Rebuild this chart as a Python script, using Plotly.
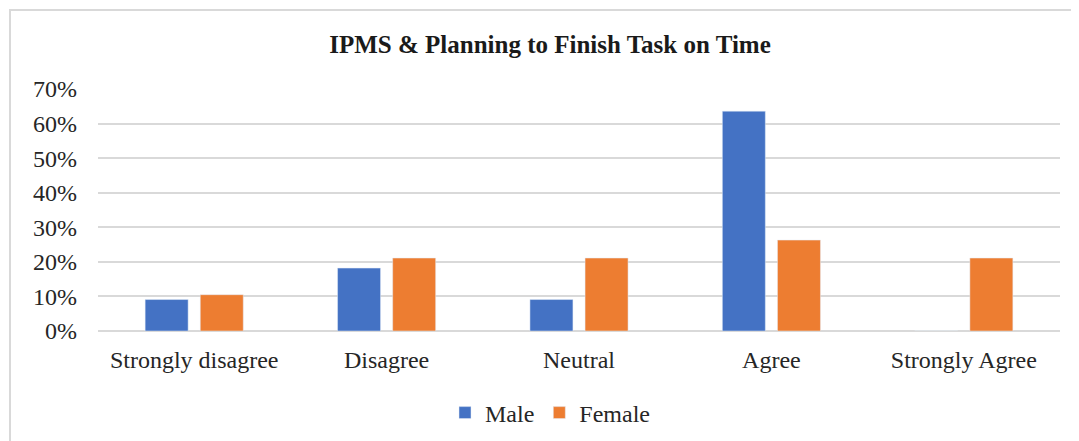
import plotly.graph_objects as go

categories = ["Strongly disagree", "Disagree", "Neutral", "Agree", "Strongly Agree"]
male = [9.1, 18.2, 9.1, 63.6, 0]
female = [10.5, 21.1, 21.1, 26.3, 21.1]
y_ticks = [0, 10, 20, 30, 40, 50, 60, 70]
y_tick_labels = [f"{v}%" for v in y_ticks]

FONT = "Liberation Serif, Times New Roman, serif"
OFF = 8  # page body margin offset
W, H = 1079 - OFF, 441 - OFF
# target positions in page pixels, converted to figure pixels
L = 98 - OFF
T = 89 - OFF
R = 1079 - 1060
B = 441 - 331

fig = go.Figure()
fig.add_trace(go.Bar(name="Male", x=categories, y=male, marker_color="#4472C4"))
fig.add_trace(go.Bar(name="Female", x=categories, y=female, marker_color="#ED7D31"))

pw = W - L - R
ph = H - T - B

fig.update_layout(
    width=W, height=H,
    margin=dict(l=L, r=R, t=T, b=B),
    paper_bgcolor="white", plot_bgcolor="white",
    barmode="group", bargap=0.427, bargroupgap=0.22,
    font=dict(family=FONT, size=24, color="#262626"),
    title=dict(text="<b>IPMS & Planning to Finish Task on Time</b>",
               x=(550 - OFF) / W, xanchor="center", xref="container",
               y=1 - (44 - OFF) / H, yanchor="middle", yref="container",
               font=dict(family=FONT, size=25, color="#1a1a1a")),
    legend=dict(orientation="h", x=(550 - OFF) / W, xanchor="center", xref="container",
                y=1 - (413 - OFF) / H, yanchor="middle", yref="container",
                font=dict(family=FONT, size=24, color="#262626"),
                itemwidth=30, traceorder="normal"),
    showlegend=True,
)
fig.update_xaxes(showgrid=False, showline=False, ticks="", ticklabelstandoff=12,
                 tickfont=dict(family=FONT, size=24, color="#262626"))
fig.update_yaxes(range=[0, 70], tickvals=y_ticks, ticktext=y_tick_labels,
                 showgrid=True, gridcolor="#d9d9d9", gridwidth=2,
                 zeroline=True, zerolinecolor="#d9d9d9", zerolinewidth=2,
                 showline=False, ticks="", ticklabelstandoff=20,
                 tickfont=dict(family=FONT, size=24, color="#262626"))

# outer chart border (light gray), extending past right and bottom edges
fig.add_shape(type="rect", xref="paper", yref="paper",
              x0=(10 - 98) / pw, x1=(1079 + 20 - 98) / pw,
              y0=(331 - (441 + 20)) / ph, y1=(331 - 10) / ph,
              line=dict(color="#d9d9d9", width=2), fillcolor="rgba(0,0,0,0)",
              layer="below")

fig.write_html("out.html")
